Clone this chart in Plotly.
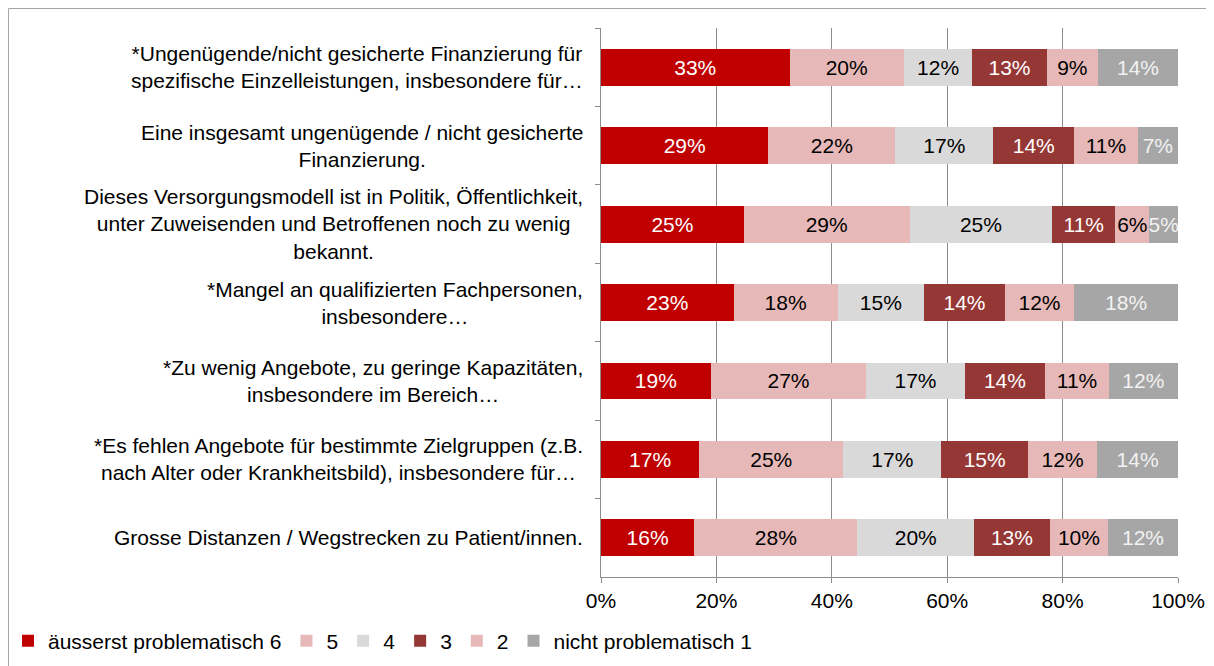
import plotly.graph_objects as go

categories = [
    "*Ungenügende/nicht gesicherte Finanzierung für<br>spezifische Einzelleistungen, insbesondere für…",
    "Eine insgesamt ungenügende / nicht gesicherte<br>Finanzierung.",
    "Dieses Versorgungsmodell ist in Politik, Öffentlichkeit,<br>unter Zuweisenden und Betroffenen noch zu wenig<br>bekannt.",
    "*Mangel an qualifizierten Fachpersonen,<br>insbesondere…",
    "*Zu wenig Angebote, zu geringe Kapazitäten,<br>insbesondere im Bereich…",
    "*Es fehlen Angebote für bestimmte Zielgruppen (z.B.<br>nach Alter oder Krankheitsbild), insbesondere für…",
    "Grosse Distanzen / Wegstrecken zu Patient/innen.",
]
cat_ids = [f"c{i}" for i in range(len(categories))]

series_names = ["äusserst problematisch 6", "5", "4", "3", "2", "nicht problematisch 1"]
v6 = [33, 29, 25, 23, 19, 17, 16]
v5 = [20, 22, 29, 18, 27, 25, 28]
v4 = [12, 17, 25, 15, 17, 17, 20]
v3 = [13, 14, 11, 14, 14, 15, 13]
v2 = [9, 11, 6, 12, 11, 12, 10]
v1 = [14, 7, 5, 18, 12, 14, 12]
series_values = [v6, v5, v4, v3, v2, v1]

colors = ["#C00000", "#E6B9B8", "#D9D9D9", "#953735", "#E6B9B8", "#A6A6A6"]
text_colors = ["white", "black", "black", "white", "black", "#F2F2F2"]

x_ticks = [0, 20, 40, 60, 80, 100]

FONT = "Liberation Sans, Arial, sans-serif"
FS = 21

fig = go.Figure()
for name, vals, col, tcol in zip(series_names, series_values, colors, text_colors):
    fig.add_trace(go.Bar(
        y=cat_ids, x=vals, name=name, orientation="h",
        marker=dict(color=col, line=dict(width=0)),
        text=[f"{v}%" for v in vals],
        textposition="inside", insidetextanchor="middle",
        constraintext="none", textangle=0,
        textfont=dict(color=tcol, size=FS, family=FONT),
        hoverinfo="name+x",
    ))

annotations = []
for cid, label in zip(cat_ids, categories):
    annotations.append(dict(
        x=0, xref="paper", xshift=-16, y=cid, yref="y",
        text=label, showarrow=False, xanchor="right", yanchor="middle",
        align="center", font=dict(size=FS, family=FONT, color="black"),
    ))

W, H = 1214, 666
L, R, T, B = 593, 44, 20, 97
pw, ph = W - L - R, H - T - B

def px_to_paper_x(p):
    return (p - L) / pw

def px_to_paper_y(p):
    return (H - B - p) / ph

fig.update_layout(
    width=W, height=H,
    margin=dict(l=L, r=R, t=T, b=B, pad=0, autoexpand=False),
    barmode="stack", barnorm="percent", bargap=0.53,
    plot_bgcolor="white", paper_bgcolor="white",
    font=dict(family=FONT, size=FS, color="black"),
    xaxis=dict(
        range=[0, 100], tickvals=x_ticks, ticktext=[f"{t}%" for t in x_ticks],
        showgrid=True, gridcolor="#8C8C8C", gridwidth=1,
        showline=True, linecolor="#8C8C8C", linewidth=1,
        ticks="outside", ticklen=5, tickcolor="#8C8C8C",
        zeroline=False, fixedrange=True,
        tickfont=dict(size=FS, family=FONT, color="black"),
    ),
    yaxis=dict(
        categoryorder="array", categoryarray=cat_ids, autorange="reversed",
        showticklabels=False, showgrid=False,
        showline=True, linecolor="#8C8C8C", linewidth=1,
        ticks="outside", ticklen=5, tickcolor="#8C8C8C", tickson="boundaries",
        zeroline=False, fixedrange=True,
    ),
    legend=dict(
        orientation="h", x=px_to_paper_x(0), xanchor="left",
        y=px_to_paper_y(633), yanchor="middle",
        font=dict(size=FS, family=FONT, color="black"),
        itemwidth=30, traceorder="normal", bgcolor="rgba(0,0,0,0)",
    ),
    annotations=annotations,
    shapes=[dict(
        type="rect", xref="paper", yref="paper",
        x0=px_to_paper_x(0.5), x1=px_to_paper_x(1240),
        y0=px_to_paper_y(700), y1=px_to_paper_y(0.5),
        line=dict(color="#A6A6A6", width=1), fillcolor="rgba(0,0,0,0)",
        layer="below",
    )],
    showlegend=True,
)

fig.write_html("out.html")
